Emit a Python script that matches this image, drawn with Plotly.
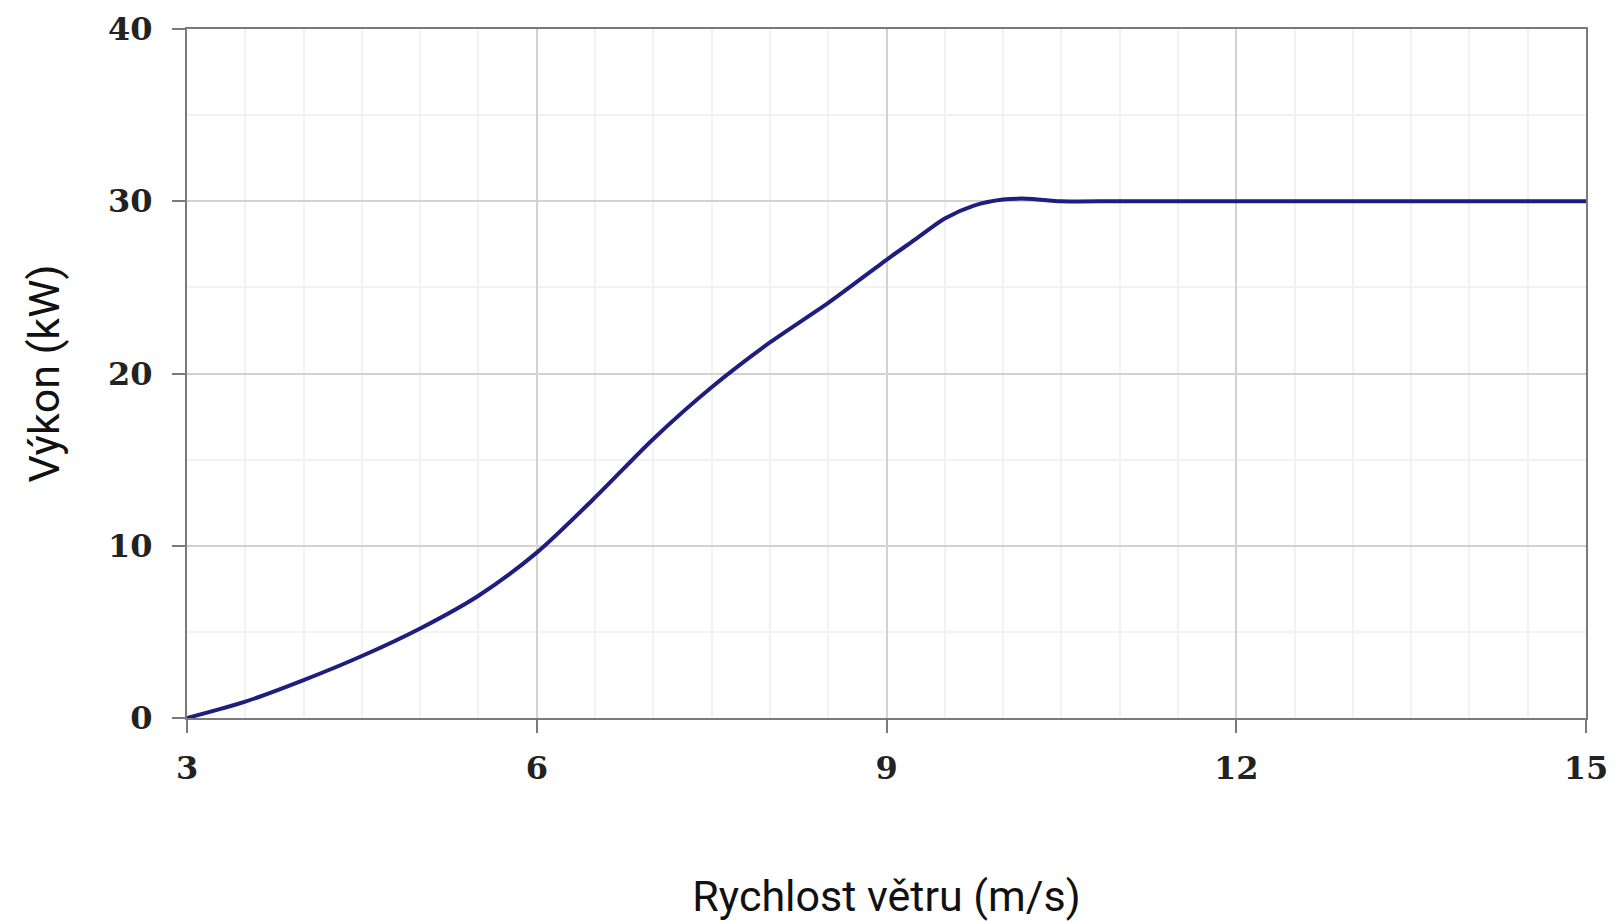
import plotly.graph_objects as go

# Wind speed (m/s) and power output (kW)
wind_speed = [3, 3.5, 4, 4.5, 5, 5.5, 6, 6.5, 7, 7.5, 8, 8.5, 9, 9.25, 9.5, 9.75, 10, 10.2, 10.5, 11, 12, 13, 14, 15]
power_kw = [0, 0.95, 2.2, 3.6, 5.2, 7.1, 9.6, 12.8, 16.2, 19.2, 21.8, 24.1, 26.6, 27.8, 29.0, 29.75, 30.1, 30.15, 30.0, 30, 30, 30, 30, 30]

x_ticks = [3, 6, 9, 12, 15]
y_ticks = [0, 10, 20, 30, 40]

x_title = "Rychlost větru (m/s)"
y_title = "Výkon (kW)"

fig = go.Figure()
fig.add_trace(go.Scatter(
    x=wind_speed, y=power_kw, mode="lines",
    line=dict(color="#1e1e80", width=4, shape="spline", smoothing=0.8),
    showlegend=False, hoverinfo="x+y",
))

tick_font = dict(family="DejaVu Serif", size=32, color="#222222", weight="bold")
title_font = dict(family="Roboto", size=43, color="#111111")

fig.update_layout(
    width=1607, height=913,
    margin=dict(l=179, r=29, t=21, b=203),
    paper_bgcolor="white", plot_bgcolor="white",
    xaxis=dict(
        range=[3, 15], tickvals=x_ticks, ticktext=[str(v) for v in x_ticks],
        showgrid=True, gridcolor="#d2d2d2", gridwidth=1.5,
        minor=dict(dtick=0.5, tick0=3, showgrid=True, gridcolor="#f2f2f2", gridwidth=1.5),
        showline=True, linecolor="#7a7a7a", linewidth=2, mirror=True,
        ticks="outside", ticklen=13, tickwidth=2, tickcolor="#7a7a7a",
        tickfont=tick_font, ticklabelstandoff=8,
        title=dict(text=x_title, font=title_font, standoff=95),
        zeroline=False, automargin=False,
    ),
    yaxis=dict(
        range=[0, 40], tickvals=y_ticks, ticktext=[str(v) for v in y_ticks],
        showgrid=True, gridcolor="#d2d2d2", gridwidth=1.5,
        minor=dict(dtick=5, tick0=0, showgrid=True, gridcolor="#f2f2f2", gridwidth=1.5),
        showline=True, linecolor="#7a7a7a", linewidth=2, mirror=True,
        ticks="outside", ticklen=13, tickwidth=2, tickcolor="#7a7a7a",
        tickfont=tick_font, ticklabelstandoff=13,
        title=dict(text=y_title, font=title_font, standoff=35),
        zeroline=False, automargin=False,
    ),
)

fig.write_html("out.html")
